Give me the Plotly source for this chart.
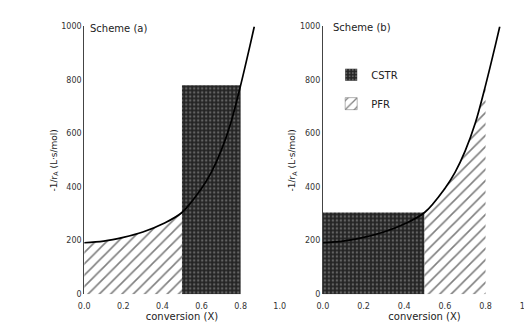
import plotly.graph_objects as go

# Levenspiel curve  -1/rA vs conversion X
conversion = [0.0, 0.1, 0.2, 0.3, 0.4, 0.5, 0.6, 0.65, 0.7, 0.75, 0.8, 0.85, 0.87]
inv_rate = [192, 198, 212, 232, 262, 305, 395, 455, 535, 640, 780, 935, 1000]

x_ticks = [0.0, 0.2, 0.4, 0.6, 0.8, 1.0]
x_tick_labels = ["0.0", "0.2", "0.4", "0.6", "0.8", "1.0"]
y_ticks = [0, 200, 400, 600, 800, 1000]
y_tick_labels = ["0", "200", "400", "600", "800", "1000"]

x_switch = 0.5   # intermediate conversion
x_final = 0.8    # final conversion

panel_titles = ["Scheme (a)", "Scheme (b)"]
legend_names = ["CSTR", "PFR"]

FONT = "DejaVu Sans"
CSTR_PAT = dict(shape=".", bgcolor="#242424", fgcolor="#a0a0a0", size=4, solidity=0.3)
PFR_PAT = dict(shape="/", bgcolor="white", fgcolor="#000", size=8, solidity=0.2)

def val(x):
    return inv_rate[conversion.index(x)]

i_sw = conversion.index(x_switch)
i_fin = conversion.index(x_final)

fig = go.Figure()

# ---- Scheme (a): PFR then CSTR
fig.add_trace(go.Scatter(x=conversion[:i_sw + 1], y=inv_rate[:i_sw + 1], fill="tozeroy",
                         mode="lines", line=dict(width=0, shape="spline"),
                         fillpattern=PFR_PAT, fillcolor="white", showlegend=False,
                         xaxis="x", yaxis="y"))
fig.add_trace(go.Scatter(x=[x_switch, x_switch, x_final, x_final, x_switch],
                         y=[0, val(x_final), val(x_final), 0, 0], fill="toself",
                         mode="lines", line=dict(width=0), fillpattern=CSTR_PAT,
                         fillcolor="#242424", showlegend=False, xaxis="x", yaxis="y"))
fig.add_trace(go.Scatter(x=conversion, y=inv_rate, mode="lines",
                         line=dict(color="black", width=1.7, shape="spline"),
                         showlegend=False, xaxis="x", yaxis="y"))

# ---- Scheme (b): CSTR then PFR
fig.add_trace(go.Scatter(x=[0, 0, x_switch, x_switch, 0],
                         y=[0, val(x_switch), val(x_switch), 0, 0], fill="toself",
                         mode="lines", line=dict(width=0), fillpattern=CSTR_PAT,
                         fillcolor="#242424", showlegend=False,
                         xaxis="x2", yaxis="y2"))
fig.add_trace(go.Scatter(x=conversion[i_sw:i_fin + 1], y=inv_rate[i_sw:i_fin + 1],
                         fill="tozeroy", mode="lines", line=dict(width=0, shape="spline"),
                         fillpattern=PFR_PAT, fillcolor="white", showlegend=False,
                         xaxis="x2", yaxis="y2"))
fig.add_trace(go.Scatter(x=conversion, y=inv_rate, mode="lines",
                         line=dict(color="black", width=1.7, shape="spline"),
                         showlegend=False, xaxis="x2", yaxis="y2"))

# legend entries (box swatches)
fig.add_trace(go.Bar(x=[None], y=[None], name=legend_names[0], legendgroup="cstr",
                     marker=dict(color="#242424", pattern=CSTR_PAT, line=dict(width=0)),
                     xaxis="x2", yaxis="y2"))
fig.add_trace(go.Bar(x=[None], y=[None], name=legend_names[1], legendgroup="pfr",
                     marker=dict(color="white", pattern=PFR_PAT,
                                 line=dict(width=0.5, color="#666")),
                     xaxis="x2", yaxis="y2"))

xcommon = dict(range=[0, 1.0], tickvals=x_ticks, ticktext=x_tick_labels, showgrid=False,
               zeroline=False, showline=False, ticks="outside", ticklen=4, tickcolor="white",
               tickfont=dict(family=FONT, size=8, color="#333"),
               title=dict(text="conversion (X)", font=dict(family=FONT, size=10, color="#222"),
                          standoff=1))
ycommon = dict(range=[0, 1000], tickvals=y_ticks, ticktext=y_tick_labels, showgrid=False,
               zeroline=False, showline=True, linecolor="#444", linewidth=1, ticks="",
               tickfont=dict(family=FONT, size=8, color="#333"),
               domain=[0.121, 0.955],
               title=dict(text="-1/r<sub>A</sub> (L·s/mol)",
                          font=dict(family=FONT, size=9, color="#222"), standoff=2))

fig.update_layout(
    width=532, height=330,
    margin=dict(l=0, r=0, t=0, b=0),
    paper_bgcolor="white", plot_bgcolor="white",
    showlegend=True,
    xaxis=dict(xcommon, domain=[0.135, 0.511], anchor="y"),
    yaxis=dict(ycommon, anchor="x"),
    xaxis2=dict(xcommon, domain=[0.594, 0.985], anchor="y2"),
    yaxis2=dict(ycommon, anchor="x2"),
    legend=dict(x=0.61, y=0.85, xanchor="left", yanchor="top", bgcolor="rgba(0,0,0,0)",
                font=dict(family=FONT, size=10, color="#222"), tracegroupgap=10),
    annotations=[
        dict(text=panel_titles[0], x=0.02, y=1.02, xref="x domain", yref="y domain",
             xanchor="left", yanchor="top", showarrow=False,
             font=dict(family=FONT, size=10, color="#222")),
        dict(text=panel_titles[1], x=0.04, y=1.025, xref="x2 domain", yref="y2 domain",
             xanchor="left", yanchor="top", showarrow=False,
             font=dict(family=FONT, size=10, color="#222")),
    ],
)

fig.write_html("out.html")
